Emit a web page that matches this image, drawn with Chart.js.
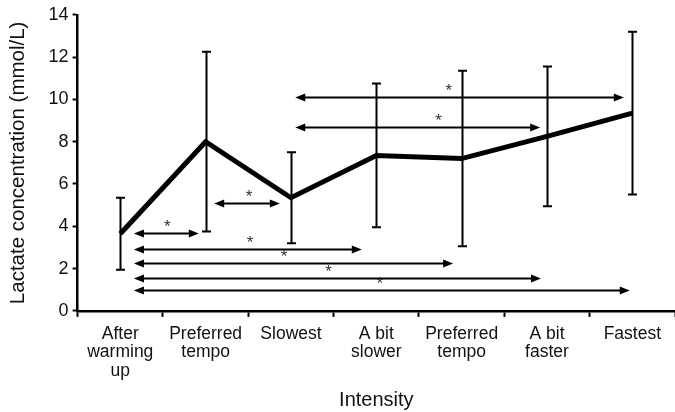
<!DOCTYPE html>
<html>
<head>
<meta charset="utf-8">
<script src="https://cdn.jsdelivr.net/npm/chart.js@4"></script>
<style>
  html, body { margin: 0; padding: 0; background: #fff; }
  #wrap { width: 675px; height: 412px; }
</style>
</head>
<body>
<div id="wrap"><canvas id="myChart"></canvas></div>
<script>
// Data
var categories = [
    ['After', 'warming', 'up'],
    ['Preferred', 'tempo'],
    ['Slowest'],
    ['A bit', 'slower'],
    ['Preferred', 'tempo'],
    ['A bit', 'faster'],
    ['Fastest']
];
var meanValues = [3.65, 8.0, 5.35, 7.35, 7.2, 8.25, 9.35];
var sdValues = [1.7, 4.25, 2.15, 3.4, 4.15, 3.3, 3.85];
var yTicks = [0, 2, 4, 6, 8, 10, 12, 14];

// significance arrows: [from (category index), to (category index), y value, star position]
var arrows = [
    [2.05, 5.9, 10.1, 3.85],
    [2.05, 4.92, 8.7, 3.73],
    [1.1, 1.87, 5.1, 1.51],
    [0.16, 0.92, 3.67, 0.55],
    [0.16, 2.83, 2.92, 1.52],
    [0.16, 3.9, 2.28, 1.92],
    [0.16, 4.93, 1.56, 2.44],
    [0.16, 5.97, 1.0, 3.04]
];

function arrowHead(ctx, x, y, dir) {
    ctx.beginPath();
    ctx.moveTo(x, y);
    ctx.lineTo(x - dir * 10, y - 4);
    ctx.lineTo(x - dir * 10, y + 4);
    ctx.closePath();
    ctx.fill();
}

var annotations = {
    id: 'annotations',
    afterDatasetsDraw: function (chart) {
        var ctx = chart.ctx;
        var xs = chart.scales.x;
        var ys = chart.scales.y;
        ctx.save();
        ctx.strokeStyle = '#000';
        ctx.fillStyle = '#000';

        // error bars
        ctx.lineWidth = 2;
        meanValues.forEach(function (m, i) {
            var px = Math.round(xs.getPixelForValue(i)) + 0.5;
            var top = ys.getPixelForValue(m + sdValues[i]);
            var bot = ys.getPixelForValue(m - sdValues[i]);
            ctx.beginPath();
            ctx.moveTo(px, top);
            ctx.lineTo(px, bot);
            ctx.moveTo(px - 4.5, top);
            ctx.lineTo(px + 4.5, top);
            ctx.moveTo(px - 4.5, bot);
            ctx.lineTo(px + 4.5, bot);
            ctx.stroke();
        });

        // arrows with stars
        arrows.forEach(function (a) {
            var x1 = xs.getPixelForValue(a[0]);
            var x2 = xs.getPixelForValue(a[1]);
            var py = Math.round(ys.getPixelForValue(a[2])) + 0.5;
            ctx.lineWidth = 2;
            ctx.beginPath();
            ctx.moveTo(x1 + 4, py);
            ctx.lineTo(x2 - 4, py);
            ctx.stroke();
            arrowHead(ctx, x1, py, -1);
            arrowHead(ctx, x2, py, 1);
            ctx.fillStyle = '#333';
            ctx.font = '17px "Liberation Sans"';
            ctx.textAlign = 'center';
            ctx.textBaseline = 'middle';
            ctx.fillText('*', xs.getPixelForValue(a[3]), py - 6);
            ctx.fillStyle = '#000';
        });
        ctx.restore();
    }
};

var ctx = document.getElementById('myChart').getContext('2d');
var myChart = new Chart(ctx, {
    type: 'line',
    data: {
        labels: categories,
        datasets: [{
            label: 'Lactate',
            data: meanValues,
            borderColor: '#000',
            borderWidth: 5,
            pointRadius: 0,
            tension: 0,
            fill: false
        }]
    },
    options: {
        responsive: true,
        maintainAspectRatio: false,
        animation: false,
        layout: { padding: { top: 7, right: 0, left: 6, bottom: 0 } },
        plugins: {
            legend: { display: false },
            tooltip: { enabled: false }
        },
        scales: {
            x: {
                offset: true,
                grid: {
                    offset: true,
                    drawOnChartArea: false,
                    drawTicks: true,
                    tickLength: 6,
                    tickWidth: 2,
                    tickColor: '#000'
                },
                border: { color: '#000', width: 2.5 },
                ticks: {
                    color: '#111',
                    font: { family: 'Liberation Sans', size: 17.5, lineHeight: 1.05 },
                    maxRotation: 0,
                    autoSkip: false,
                    padding: 8
                },
                title: {
                    display: true,
                    text: 'Intensity',
                    color: '#111',
                    font: { family: 'Liberation Sans', size: 20 },
                    padding: { top: 0, bottom: 0 }
                }
            },
            y: {
                min: 0,
                max: 14,
                afterBuildTicks: function (scale) {
                    scale.ticks = yTicks.map(function (v) { return { value: v }; });
                },
                grid: {
                    drawOnChartArea: false,
                    drawTicks: true,
                    tickLength: 5,
                    tickWidth: 2,
                    tickColor: '#000'
                },
                border: { color: '#000', width: 2.5 },
                ticks: {
                    color: '#111',
                    font: { family: 'Liberation Sans', size: 18 },
                    padding: 4
                },
                title: {
                    display: true,
                    text: 'Lactate concentration (mmol/L)',
                    color: '#111',
                    font: { family: 'Liberation Sans', size: 20.5 },
                    padding: { top: 0, bottom: 14 }
                }
            }
        }
    },
    plugins: [annotations]
});
</script>
</body>
</html>
